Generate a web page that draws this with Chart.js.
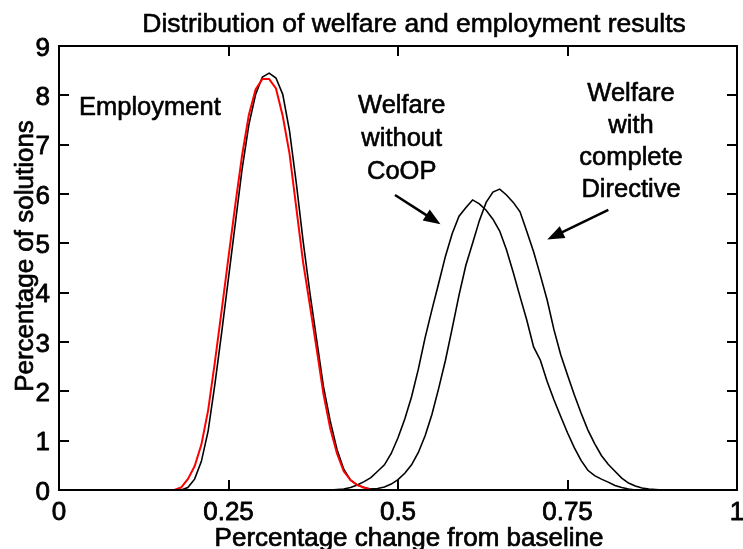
<!DOCTYPE html>
<html>
<head>
<meta charset="utf-8">
<script src="https://cdn.jsdelivr.net/npm/chart.js@4.4.0/dist/chart.umd.min.js"></script>
<style>
html,body{margin:0;padding:0;background:#ffffff;}
#wrap{position:relative;width:743px;height:549px;}
</style>
</head>
<body>
<div id="wrap"><canvas id="c" width="743" height="549"></canvas></div>
<script>
// ---- texts ----
const chartTitle = 'Distribution of welfare and employment results';
const xAxisTitle = 'Percentage change from baseline';
const yAxisTitle = 'Percentage of solutions';

// ---- ticks ----
const xTicks = [0, 0.25, 0.5, 0.75, 1];
const xTickLabels = ['0', '0.25', '0.5', '0.75', '1'];
const yTicks = [0, 1, 2, 3, 4, 5, 6, 7, 8, 9];
const yTickLabels = ['0', '1', '2', '3', '4', '5', '6', '7', '8', '9'];

// ---- employment series ----
const employmentX = [0.16,0.17,0.18,0.19,0.20,0.21,0.22,0.23,0.24,0.25,0.26,0.27,0.28,0.29,0.30,0.31,0.32,0.33,0.34,0.35,0.36,0.37,0.38,0.39,0.40,0.41,0.42,0.43,0.44,0.45,0.46,0.47,0.48];
const employmentBlack = [0,0,0,0.05,0.22,0.58,1.20,2.15,3.20,4.30,5.40,6.50,7.40,8.02,8.37,8.45,8.35,8.02,7.28,6.22,5.05,4.00,3.05,2.10,1.40,0.82,0.42,0.20,0.10,0.05,0.02,0,0];
const employmentRed = [0,0,0.05,0.22,0.48,0.92,1.62,2.60,3.65,4.72,5.78,6.78,7.60,8.12,8.33,8.33,8.14,7.58,6.82,5.72,4.62,3.75,2.86,1.95,1.25,0.74,0.38,0.20,0.10,0.05,0,0,0];

// ---- welfare without CoOP ----
const welfareNoCoopX = [0.38,0.39,0.40,0.41,0.42,0.43,0.44,0.45,0.46,0.47,0.48,0.49,0.50,0.51,0.52,0.53,0.54,0.55,0.56,0.57,0.58,0.59,0.60,0.61,0.62,0.63,0.64,0.65,0.66,0.67,0.68,0.69,0.70,0.71,0.72,0.73,0.74,0.75,0.76,0.77,0.78,0.79,0.80,0.81,0.82,0.83,0.84,0.85,0.86];
const welfareNoCoop = [0,0,0,0.01,0.02,0.05,0.10,0.17,0.25,0.38,0.51,0.74,1.06,1.44,1.89,2.45,3.09,3.65,4.19,4.74,5.20,5.55,5.72,5.88,5.80,5.67,5.49,5.25,4.87,4.41,3.92,3.44,2.90,2.63,2.20,1.83,1.49,1.16,0.86,0.60,0.40,0.29,0.22,0.16,0.09,0.05,0.02,0,0];

// ---- welfare with complete Directive ----
const welfareDirectiveX = [0.42,0.43,0.44,0.45,0.46,0.47,0.48,0.49,0.50,0.51,0.52,0.53,0.54,0.55,0.56,0.57,0.58,0.59,0.60,0.61,0.62,0.63,0.64,0.65,0.66,0.67,0.68,0.69,0.70,0.71,0.72,0.73,0.74,0.75,0.76,0.77,0.78,0.79,0.80,0.81,0.82,0.83,0.84,0.85,0.86,0.87,0.88,0.89,0.90];
const welfareDirective = [0,0,0,0.01,0.02,0.03,0.06,0.12,0.21,0.34,0.51,0.76,1.10,1.53,2.06,2.63,3.28,3.95,4.55,5.00,5.46,5.83,6.04,6.10,5.98,5.83,5.64,5.24,4.83,4.35,3.85,3.25,2.74,2.33,1.93,1.56,1.22,0.94,0.70,0.52,0.38,0.24,0.14,0.08,0.04,0.02,0.01,0,0];

// ---- annotation texts (anchored in data units) ----
const employmentLabel = ['Employment'];
const noCoopLabel = ['Welfare', 'without', 'CoOP'];
const directiveLabel = ['Welfare', 'with', 'complete', 'Directive'];
const employmentLabelAt = [0.0295, 7.60];
const noCoopLabelAt = [0.5055, 7.636];
const directiveLabelAt = [0.8437, 7.892];
const noCoopArrow = [[0.4956, 5.98], [0.5627, 5.386]];
const directiveArrow = [[0.8102, 5.676], [0.7202, 5.078]];

const FONT = '"Liberation Sans", Arial, Helvetica, sans-serif';

function pts(xs, ys) { return xs.map((x, i) => ({ x: x, y: ys[i] })); }

const decor = {
  id: 'decor',
  beforeDraw(chart) {
    const ctx = chart.ctx;
    ctx.save();
    ctx.fillStyle = '#ffffff';
    ctx.fillRect(0, 0, chart.width, chart.height);
    ctx.restore();
  },
  afterDatasetsDraw(chart) {
    const ctx = chart.ctx;
    const a = chart.chartArea;
    const xs = chart.scales.x, ys = chart.scales.y;
    ctx.save();
    ctx.strokeStyle = '#000';
    ctx.fillStyle = '#000';
    ctx.lineWidth = 2;
    ctx.strokeRect(a.left, a.top, a.right - a.left, a.bottom - a.top);
    const tl = 10;
    ctx.beginPath();
    xTicks.forEach(v => {
      const px = Math.round(xs.getPixelForValue(v));
      ctx.moveTo(px, a.bottom); ctx.lineTo(px, a.bottom - tl);
      ctx.moveTo(px, a.top); ctx.lineTo(px, a.top + tl);
    });
    yTicks.forEach(v => {
      const py = Math.round(ys.getPixelForValue(v));
      ctx.moveTo(a.left, py); ctx.lineTo(a.left + tl, py);
      ctx.moveTo(a.right, py); ctx.lineTo(a.right - tl, py);
    });
    ctx.stroke();

    function txt(t, x, y, w) {
      ctx.lineWidth = w;
      ctx.strokeText(t, x, y);
      ctx.fillText(t, x, y);
    }

    // tick labels
    ctx.font = '26px ' + FONT;
    ctx.lineJoin = 'round';
    ctx.textBaseline = 'alphabetic';
    ctx.textAlign = 'center';
    xTicks.forEach((v, i) => {
      txt(xTickLabels[i], xs.getPixelForValue(v), a.bottom + 30, 0.8);
    });
    ctx.textAlign = 'right';
    yTicks.forEach((v, i) => {
      txt(yTickLabels[i], a.left - 9, ys.getPixelForValue(v) + 9.5, 0.8);
    });

    // axis titles
    ctx.textAlign = 'center';
    txt(xAxisTitle, 409, 546, 0.7);
    ctx.save();
    ctx.translate(33, 256);
    ctx.rotate(-Math.PI / 2);
    txt(yAxisTitle, 0, 0, 0.7);
    ctx.restore();

    // chart title
    ctx.font = '26.5px ' + FONT;
    txt(chartTitle, 414, 32, 0.6);

    // annotations
    ctx.font = '25.5px ' + FONT;
    ctx.textAlign = 'left';
    txt(employmentLabel[0], xs.getPixelForValue(employmentLabelAt[0]), ys.getPixelForValue(employmentLabelAt[1]), 0.6);
    ctx.textAlign = 'center';
    noCoopLabel.forEach((t, i) => {
      txt(t, xs.getPixelForValue(noCoopLabelAt[0]), ys.getPixelForValue(noCoopLabelAt[1]) + i * 33, 0.6);
    });
    directiveLabel.forEach((t, i) => {
      txt(t, xs.getPixelForValue(directiveLabelAt[0]), ys.getPixelForValue(directiveLabelAt[1]) + i * 32, 0.6);
    });

    function arrow(spec) {
      const x0 = xs.getPixelForValue(spec[0][0]), y0 = ys.getPixelForValue(spec[0][1]);
      const x1 = xs.getPixelForValue(spec[1][0]), y1 = ys.getPixelForValue(spec[1][1]);
      const dx = x1 - x0, dy = y1 - y0, L = Math.hypot(dx, dy);
      const ux = dx / L, uy = dy / L;
      const hl = 17, hw = 6.5;
      const bx = x1 - ux * hl, by = y1 - uy * hl;
      ctx.lineWidth = 2.5;
      ctx.beginPath();
      ctx.moveTo(x0, y0); ctx.lineTo(bx + ux * 2, by + uy * 2);
      ctx.stroke();
      ctx.beginPath();
      ctx.moveTo(x1, y1);
      ctx.lineTo(bx - uy * hw, by + ux * hw);
      ctx.lineTo(bx + uy * hw, by - ux * hw);
      ctx.closePath();
      ctx.fill();
    }
    arrow(noCoopArrow);
    arrow(directiveArrow);
    ctx.restore();
  }
};

new Chart(document.getElementById('c'), {
  type: 'line',
  data: {
    datasets: [
      { label: 'Employment (red)', data: pts(employmentX, employmentRed), borderColor: '#ff0000', borderWidth: 2, order: 0 },
      { label: 'Employment', data: pts(employmentX, employmentBlack), borderColor: '#000000', borderWidth: 1.6, order: 1 },
      { label: 'Welfare without CoOP', data: pts(welfareNoCoopX, welfareNoCoop), borderColor: '#000000', borderWidth: 1.6, order: 1 },
      { label: 'Welfare with complete Directive', data: pts(welfareDirectiveX, welfareDirective), borderColor: '#000000', borderWidth: 1.6, order: 1 }
    ]
  },
  options: {
    responsive: false,
    animation: false,
    devicePixelRatio: 1,
    layout: { padding: { left: 59, right: 6, top: 46, bottom: 59 } },
    parsing: false,
    elements: { point: { radius: 0 }, line: { tension: 0, fill: false } },
    scales: {
      x: { type: 'linear', min: 0, max: 1, display: false },
      y: { type: 'linear', min: 0, max: 9, display: false }
    },
    plugins: { legend: { display: false }, tooltip: { enabled: false }, title: { display: false } }
  },
  plugins: [decor]
});
</script>
</body>
</html>
